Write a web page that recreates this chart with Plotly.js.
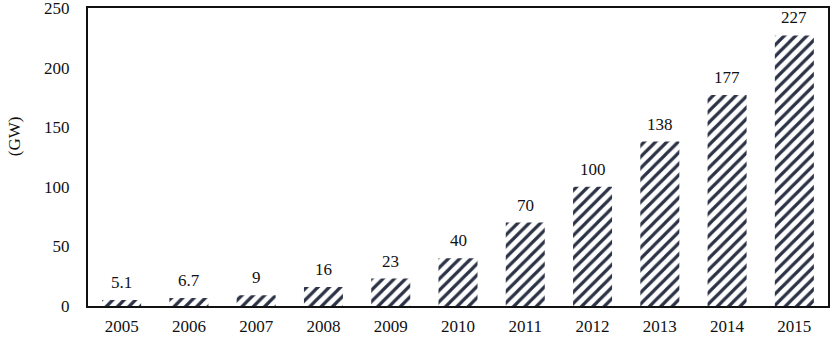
<!DOCTYPE html>
<html>
<head>
<meta charset="utf-8">
<script src="https://cdn.plot.ly/plotly-3.0.1.min.js"></script>
<style>html,body{margin:0;padding:0;background:#fff;}#chart{width:831px;height:346px;}</style>
</head>
<body>
<div id="chart"></div>
<script>
const years = ['2005','2006','2007','2008','2009','2010','2011','2012','2013','2014','2015'];
const capacity = [5.1, 6.7, 9, 16, 23, 40, 70, 100, 138, 177, 227];
const labels = ['5.1','6.7','9','16','23','40','70','100','138','177','227'];
const yTicks = [0, 50, 100, 150, 200, 250];

const font = {family: 'Liberation Serif, Times New Roman, serif', size: 17, color: '#111'};

const valueLabels = years.map((yr, i) => ({
  x: i, y: capacity[i], xref: 'x', yref: 'y',
  text: labels[i], showarrow: false, yanchor: 'bottom', yshift: 6, font: font
}));

Plotly.newPlot('chart', [{
  type: 'bar',
  x: years,
  y: capacity,
  cliponaxis: false,
  marker: {
    color: '#ffffff',
    line: {width: 0},
    pattern: {shape: '/', fgcolor: '#2b3245', bgcolor: '#ffffff', size: 8, solidity: 0.4}
  },
  hoverinfo: 'none'
}], {
  width: 831, height: 346,
  margin: {l: 88, r: 3, t: 8, b: 40},
  paper_bgcolor: '#fff', plot_bgcolor: '#fff',
  bargap: 0.42,
  showlegend: false,
  font: font,
  xaxis: {
    type: 'category', categoryorder: 'array', categoryarray: years,
    range: [-0.5, years.length - 0.5],
    showline: true, mirror: true, linecolor: '#111', linewidth: 2,
    ticks: '', tickfont: font, showgrid: false, ticklabelstandoff: 4
  },
  yaxis: {
    range: [0, 250], tickvals: yTicks, ticklabeloverflow: 'allow',
    showline: true, mirror: true, linecolor: '#111', linewidth: 2,
    ticks: '', ticklen: 0, tickfont: font, showgrid: false, zeroline: false,
    ticklabelstandoff: 13
  },
  annotations: valueLabels.concat([{
    text: '(GW)', textangle: -90, showarrow: false,
    xref: 'paper', yref: 'paper', x: -0.1, y: 0.57,
    xanchor: 'center', yanchor: 'middle', font: font
  }])
}, {displayModeBar: false, staticPlot: true});
</script>
</body>
</html>
